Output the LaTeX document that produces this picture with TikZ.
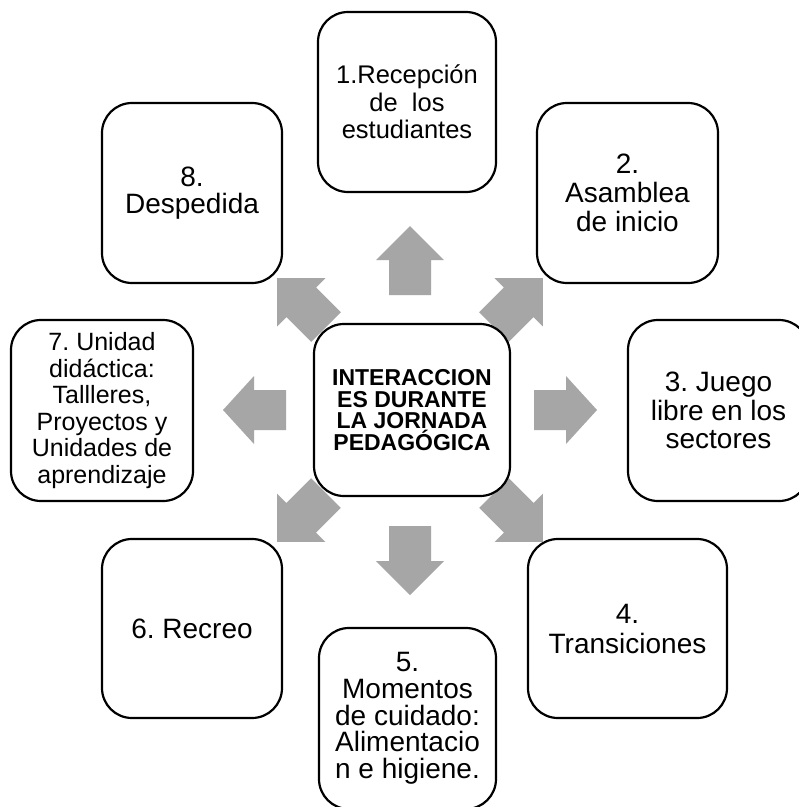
\documentclass[tikz,border=0pt]{standalone}
\usepackage{fontspec}
\setmainfont{Liberation Sans}
\frenchspacing
\definecolor{arrowgray}{RGB}{166,166,166}
\tikzset{
  box/.style={draw=black, line width=2.2pt, rounded corners=30pt, fill=white,
    align=center, inner sep=0pt},
  fs/.style 2 args={font=\frenchspacing\fontsize{#1pt}{#2pt}\selectfont},
  pics/longarrow/.style={code={
    \fill[arrowgray] (0,-21) -- (35,-21) -- (35,-34) -- (69,0) -- (35,34) -- (35,21) -- (0,21) -- cycle;}},
  pics/shortarrow/.style={code={
    \fill[arrowgray] (0,-20) -- (32,-20) -- (32,-34) -- (63,0) -- (32,34) -- (32,20) -- (0,20) -- cycle;}}
}
\begin{document}
\begin{tikzpicture}[x=1pt,y=-1pt]
\path[use as bounding box] (0,0) rectangle (799,807);
\path[clip] (0,0) rectangle (799,807);
\fill[white] (0,0) rectangle (799,807);
% arrows
\pic[rotate=90]  (aup)    at (410,295) {longarrow};
\pic[rotate=-90] (adown)  at (410,526) {longarrow};
\pic[rotate=180] (aleft)  at (286,410) {shortarrow};
\pic[rotate=0]   (aright) at (534,410) {shortarrow};
\pic[rotate=135] (anw)    at (326,327) {longarrow};
\pic[rotate=45]  (ane)    at (494,327) {longarrow};
\pic[rotate=225] (asw)    at (326,493) {longarrow};
\pic[rotate=-45] (ase)    at (494,493) {longarrow};
% boxes
\node[box, fs={25.5}{27.5}, minimum width=178pt, minimum height=180pt] (b1) at (407,102)
  {1.Recepción\\de~~los\\estudiantes};
\node[box, fs={28}{28.7}, minimum width=181pt, minimum height=180pt] (b2) at (627.5,193)
  {2.\\Asamblea\\de inicio};
\node[box, fs={28}{28.5}, minimum width=181pt, minimum height=181pt] (b3) at (718.5,410.5)
  {3. Juego\\libre en los\\sectores};
\node[box, fs={28}{30}, minimum width=199pt, minimum height=179pt] (b4) at (627.5,628.5)
  {4.\\Transiciones};
\node[box, fs={28}{26.7}, minimum width=177pt, minimum height=181pt] (b5) at (407.5,718.5)
  {5.\\Momentos\\de cuidado:\\Alimentacio\\n e higiene.};
\node[box, fs={28}{30}, minimum width=180pt, minimum height=179pt] (b6) at (192,628.5)
  {6. Recreo};
\node[box, fs={25}{26.6}, minimum width=182pt, minimum height=181pt] (b7) at (102,410.5)
  {7. Unidad\\didáctica:\\Tallleres,\\Proyectos y\\Unidades de\\aprendizaje};
\node[box, fs={28}{27.7}, minimum width=180pt, minimum height=180pt] (b8) at (192,193)
  {8.\\Despedida};
\node[box, font=\frenchspacing\bfseries\fontsize{23pt}{21.7pt}\selectfont, minimum width=196pt, minimum height=172pt] (c) at (412,410)
  {INTERACCION\\ES DURANTE\\LA JORNADA\\PEDAGÓGICA};
\end{tikzpicture}
\end{document}
